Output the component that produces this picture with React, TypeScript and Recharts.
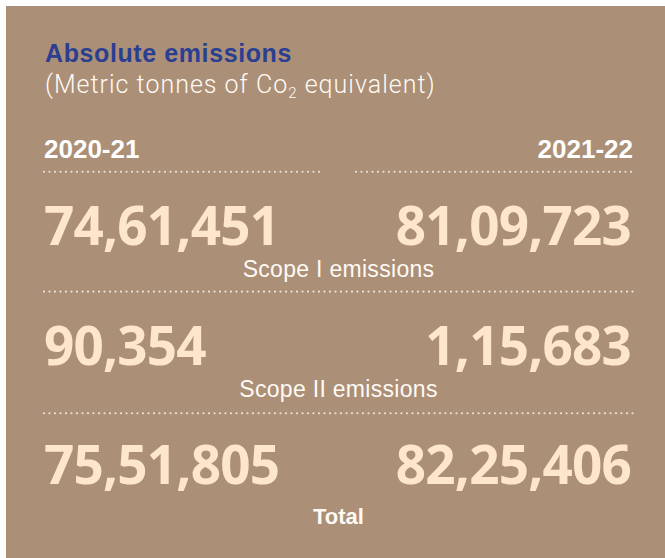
import React from "react";
import {
  ComposedChart,
  Scatter,
  XAxis,
  YAxis,
  ReferenceLine,
  Customized,
} from "recharts";

const years = ["2020-21", "2021-22"];
const scopes = ["Scope I emissions", "Scope II emissions", "Total"];
const emissions2020 = [7461451, 90354, 7551805];
const emissions2021 = [8109723, 115683, 8225406];

const BG = "#ab8f77";
const CREAM = "#fee6cc";
const DOT = "#efe5da";

// Indian digit grouping: 74,61,451
function fmtIN(n: number): string {
  const s = String(n);
  if (s.length <= 3) return s;
  const last3 = s.slice(-3);
  let rest = s.slice(0, -3);
  const parts: string[] = [];
  while (rest.length > 2) {
    parts.unshift(rest.slice(-2));
    rest = rest.slice(0, -2);
  }
  if (rest) parts.unshift(rest);
  return parts.join(",") + "," + last3;
}

const leftData = emissions2020.map((v, i) => ({ col: 0, row: i, v }));
const rightData = emissions2021.map((v, i) => ({ col: 1, row: i, v }));
const labelData = scopes.map((s, i) => ({ col: 0.5, row: i, s }));

const ValueShape = (props: any) => {
  const { cx, cy, payload } = props;
  const left = payload.col === 0;
  return (
    <text
      x={left ? cx : cx - 2}
      y={cy}
      textAnchor={left ? "start" : "end"}
      fill={CREAM}
      fontFamily="'Open Sans', sans-serif"
      fontWeight={700}
      fontSize={53}
      letterSpacing={-0.8}
    >
      {fmtIN(payload.v)}
    </text>
  );
};

const LabelShape = (props: any) => {
  const { cx, cy, payload } = props;
  const isTotal = payload.row === scopes.length - 1;
  return (
    <text
      x={cx}
      y={cy + (isTotal ? 40 : 32)}
      textAnchor="middle"
      fill="#fffaf4"
      fontFamily="'Liberation Sans', Arial, sans-serif"
      fontWeight={isTotal ? 700 : 400}
      fontSize={isTotal ? 22 : 23}
      letterSpacing={isTotal ? 0 : 0.3}
    >
      {payload.s}
    </text>
  );
};

const YearTick = (props: any) => {
  const { x, payload } = props;
  return (
    <text
      x={x}
      y={158}
      textAnchor={payload.value === 0 ? "start" : "end"}
      fill="#ffffff"
      fontFamily="'Liberation Sans', Arial, sans-serif"
      fontWeight={700}
      fontSize={26}
    >
      {years[payload.value]}
    </text>
  );
};

const Header = () => (
  <g>
    <text
      x={45}
      y={62}
      fill="#2b3f92"
      fontFamily="'Liberation Sans', Arial, sans-serif"
      fontWeight={700}
      fontSize={25}
      letterSpacing={0.6}
    >
      Absolute emissions
    </text>
    <text
      x={45}
      y={93}
      fill="#fffaf4"
      fontFamily="Roboto, 'Liberation Sans', sans-serif"
      fontWeight={300}
      fontSize={25}
      letterSpacing={1}
    >
      (Metric tonnes of Co
      <tspan fontSize={15} dy={5}>
        2
      </tspan>
      <tspan dy={-5}> equivalent)</tspan>
    </text>
  </g>
);

const dotted = {
  stroke: DOT,
  strokeWidth: 2.2,
  strokeDasharray: "0 5.5",
  strokeLinecap: "round" as const,
};

export default function App() {
  return (
    <div
      style={{
        position: "absolute",
        left: 0,
        top: 0,
        width: 665,
        height: 558,
        background: "#ffffff",
      }}
    >
      <div
        style={{
          position: "absolute",
          left: 6,
          top: 6,
          width: 659,
          height: 552,
          background: BG,
        }}
      />
      <div style={{ position: "absolute", left: 0, top: 0 }}>
        <ComposedChart
          width={665}
          height={558}
          margin={{ top: 215, right: 32, bottom: 74, left: 44 }}
        >
          <XAxis
            type="number"
            dataKey="col"
            domain={[0, 1]}
            ticks={[0, 1]}
            orientation="top"
            height={30}
            axisLine={false}
            tickLine={false}
            tick={<YearTick />}
          />
          <YAxis type="number" dataKey="row" domain={[0, 2]} reversed hide />
          <ReferenceLine
            segment={[
              { x: 0, y: -0.613 },
              { x: 0.4686, y: -0.613 },
            ]}
            ifOverflow="visible"
            {...dotted}
          />
          <ReferenceLine
            segment={[
              { x: 0.5297, y: -0.613 },
              { x: 1, y: -0.613 },
            ]}
            ifOverflow="visible"
            {...dotted}
          />
          <ReferenceLine
            segment={[
              { x: 0, y: 0.39 },
              { x: 1, y: 0.39 },
            ]}
            ifOverflow="visible"
            {...dotted}
          />
          <ReferenceLine
            segment={[
              { x: 0, y: 1.408 },
              { x: 1, y: 1.408 },
            ]}
            ifOverflow="visible"
            {...dotted}
          />
          <Scatter data={leftData} shape={<ValueShape />} isAnimationActive={false} />
          <Scatter data={rightData} shape={<ValueShape />} isAnimationActive={false} />
          <Scatter data={labelData} shape={<LabelShape />} isAnimationActive={false} />
          <Customized component={<Header />} />
        </ComposedChart>
      </div>
    </div>
  );
}
